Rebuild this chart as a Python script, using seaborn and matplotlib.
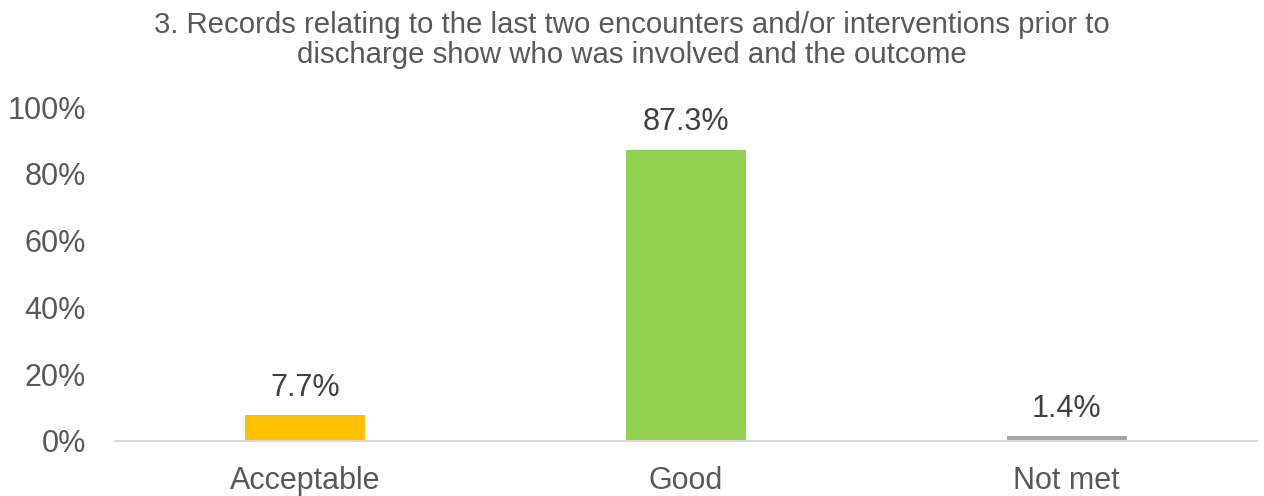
import numpy as np
import pandas as pd
import seaborn as sns
from matplotlib import pyplot as plt
from matplotlib.ticker import PercentFormatter

# data
categories = ['Acceptable', 'Good', 'Not met']
values = [7.7, 87.3, 1.4]
bar_colors = ['#FFC000', '#92D050', '#A5A5A5']
title = '3. Records relating to the last two encounters and/or interventions prior to\ndischarge show who was involved and the outcome'

sns.set_theme(style='white')
plt.rcParams['font.family'] = ['Liberation Sans', 'DejaVu Sans']

df = pd.DataFrame({'category': categories, 'value': values})

fig = plt.figure(figsize=(12.64, 4.96), dpi=100)
ax = fig.add_axes([0.091, 0.1109, 0.9035, 0.673])

sns.barplot(data=df, x='category', y='value', hue='category', palette=bar_colors,
            width=0.315, legend=False, ax=ax, saturation=1, linewidth=0)

for i, v in enumerate(values):
    ax.text(i, v + 3.8, f'{v:.1f}%', ha='center', va='bottom', fontsize=22, color='#404040')

ax.set_ylim(0, 100)
ax.set_xlim(-0.5, 2.5)
ax.set_yticks(np.arange(0, 101, 20))
ax.yaxis.set_major_formatter(PercentFormatter(decimals=0))
ax.tick_params(axis='y', labelsize=22, labelcolor='#595959', length=0, pad=21)
ax.tick_params(axis='x', labelsize=22, labelcolor='#595959', length=0, pad=18)
ax.set_xlabel('')
ax.set_ylabel('')

for side in ['top', 'right', 'left']:
    ax.spines[side].set_visible(False)
ax.spines['bottom'].set_color('#D9D9D9')
ax.spines['bottom'].set_linewidth(1.5)

fig.text(0.5, 0.978, title, fontsize=21.2, color='#595959', ha='center', va='top',
         linespacing=1.08)

fig.savefig('out.png', dpi=100)
